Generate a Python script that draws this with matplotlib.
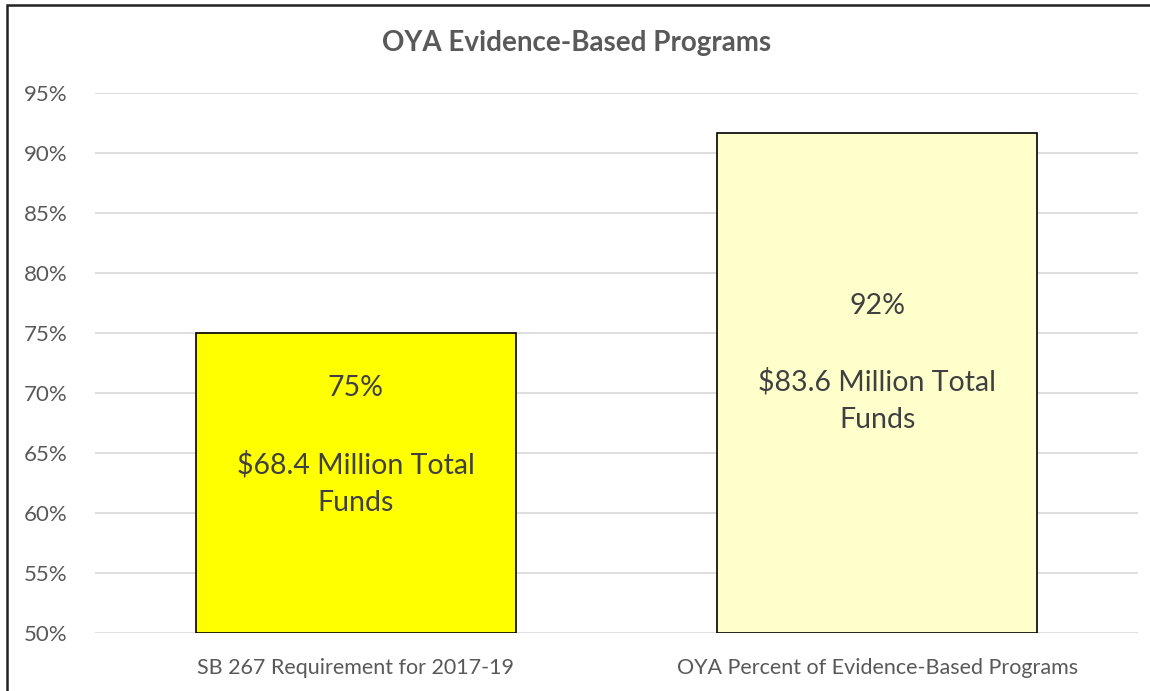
import matplotlib.pyplot as plt
from matplotlib.patches import Rectangle

plt.rcParams['font.family'] = ['Lato', 'DejaVu Sans']

categories = ["SB 267 Requirement for 2017-19", "OYA Percent of Evidence-Based Programs"]
values = [75, 91.7]
bar_labels = ["75%\n\n$68.4 Million Total\nFunds", "92%\n\n$83.6 Million Total\nFunds"]
label_y = [65.6, 72.5]
colors = ["#FFFF00", "#FFFFCC"]
yticks = [50, 55, 60, 65, 70, 75, 80, 85, 90, 95]

grey = "#595959"

fig = plt.figure(figsize=(11.5, 6.91), dpi=100)
ax = fig.add_axes([95 / 1150, 1 - 633 / 691, (1138 - 95) / 1150, (633 - 93) / 691])

x = range(len(categories))
ax.bar(x, [v - 50 for v in values], bottom=50, width=0.614, color=colors,
       edgecolor="black", linewidth=1.2, zorder=3)

for i, txt in enumerate(bar_labels):
    ax.text(i, label_y[i], txt, ha="center", va="center", fontsize=20.5,
            color="#404040", linespacing=1.55, zorder=4)

ax.set_xlim(-0.5, 1.5)
ax.set_ylim(50, 95)
ax.set_yticks(yticks)
ax.set_yticklabels([f"{t}%" for t in yticks])
ax.set_xticks(list(x))
ax.set_xticklabels(categories)
ax.tick_params(axis="both", length=0, labelsize=15.5, labelcolor=grey)
ax.tick_params(axis="y", labelsize=16, pad=19.5)
ax.tick_params(axis="x", pad=18)
ax.grid(axis="y", color="#D9D9D9", linewidth=1.2, zorder=0)
for s in ax.spines.values():
    s.set_visible(False)

fig.text(577 / 1150, 1 - 43 / 691, "OYA Evidence-Based Programs", ha="center",
         va="center", fontsize=20, fontweight="bold", color=grey)

# outer frame, cut off on right and bottom like the original
fig.patches.append(Rectangle((7 / 1150, -0.05), 1.1, 1 - 5 / 691 + 0.05,
                             transform=fig.transFigure, fill=False,
                             edgecolor="#222222", linewidth=1.8))

fig.savefig("out.png", dpi=100)
